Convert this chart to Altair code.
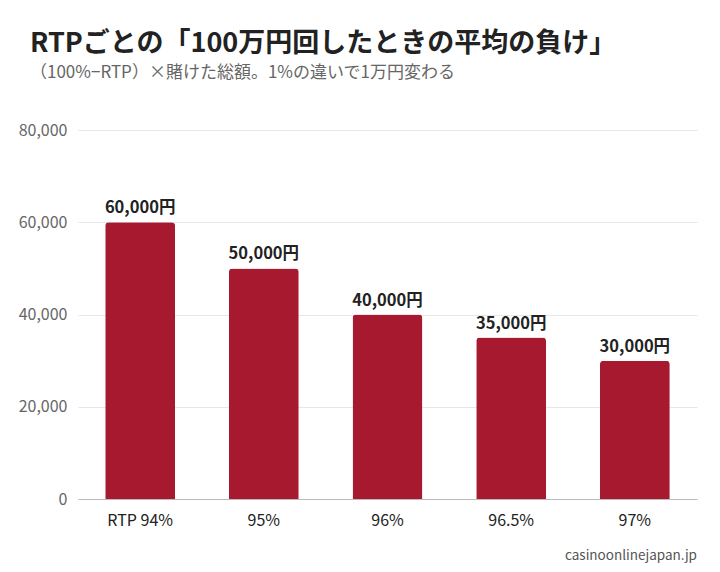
import altair as alt
import pandas as pd

categories = ["RTP 94%", "95%", "96%", "96.5%", "97%"]
losses = [60000, 50000, 40000, 35000, 30000]
labels = ["60,000円", "50,000円", "40,000円", "35,000円", "30,000円"]

df = pd.DataFrame({"cat": categories, "loss": losses, "label": labels})

FONT = "Noto Sans CJK JP"
W, H = 619, 369

base = alt.Chart(df)

bars = base.mark_bar(color="#A6192E", cornerRadiusTopLeft=3.5, cornerRadiusTopRight=3.5).encode(
    x=alt.X("cat:N", sort=categories, title=None,
            scale=alt.Scale(paddingInner=0.435, paddingOuter=0.22),
            axis=alt.Axis(labelAngle=0, labelFont=FONT, labelFontSize=16, labelColor="#222",
                          ticks=False, grid=False, domainColor="#bbbbbb", labelPadding=13)),
    y=alt.Y("loss:Q", title=None,
            scale=alt.Scale(domain=[0, 80000]),
            axis=alt.Axis(values=[0, 20000, 40000, 60000, 80000], format=",.0f",
                          labelFont=FONT, labelFontSize=16, labelColor="#666",
                          ticks=False, domain=False, gridColor="#e8e6e7", labelPadding=11)),
)

text = base.mark_text(font=FONT, fontSize=16.5, fontWeight="bold", color="#222", dy=-14).encode(
    x=alt.X("cat:N", sort=categories),
    y=alt.Y("loss:Q"),
    text="label:N",
)

footer = alt.Chart(pd.DataFrame({"t": ["casinoonlinejapan.jp"]})).mark_text(
    font=FONT, fontSize=13.5, color="#555", align="right", baseline="middle"
).encode(x=alt.value(W), y=alt.value(426), text="t:N")

chart = alt.layer(bars, text, footer).properties(
    width=W, height=H,
    background="white",
    autosize=alt.AutoSizeParams(type="none"),
    padding={"left": 70, "top": 122, "right": 15, "bottom": 65},
    title=alt.TitleParams(
        text="RTPごとの「100万円回したときの平均の負け」",
        subtitle="（100%−RTP）×賭けた総額。1%の違いで1万円変わる",
        anchor="start", frame="group", dx=-48, offset=40,
        font=FONT, fontSize=27, fontWeight="bold", color="#222",
        subtitleFont=FONT, subtitleFontSize=17, subtitleColor="#666", subtitlePadding=7,
    ),
).configure_view(stroke="transparent", strokeWidth=0)

chart.save("out.html", embed_options={"renderer": "svg", "actions": False})
